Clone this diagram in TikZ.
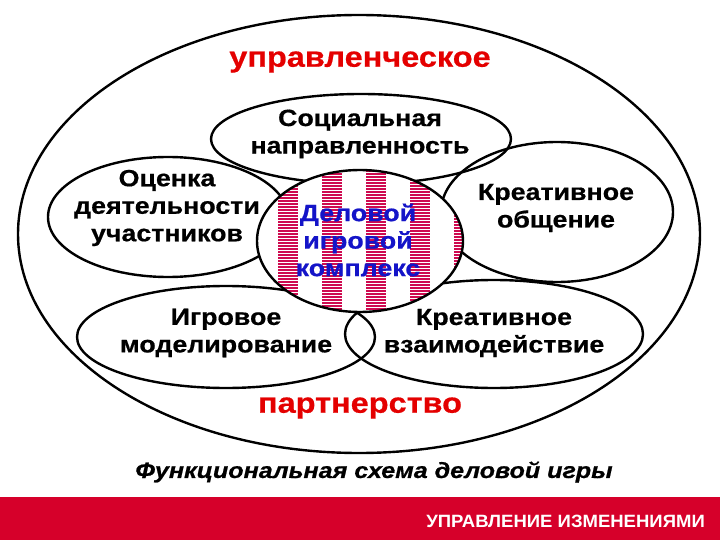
\documentclass[tikz,border=0pt]{standalone}
\usepackage{fontspec}
\setmainfont{Liberation Sans}
\newfontfamily\widefont[FakeStretch=1.14, BoldFeatures={FakeBold=0.6}, BoldItalicFeatures={FakeBold=0.8}]{Liberation Sans}
\newfontfamily\footfont[FakeStretch=1.04]{Liberation Sans}
\definecolor{barred}{RGB}{214,0,42}
\definecolor{txtred}{RGB}{228,0,0}
\definecolor{txtblue}{RGB}{20,20,200}
\definecolor{hatch}{RGB}{206,10,80}
\tikzset{
  ring/.style={draw=black, line width=2.4pt},
  lbl/.style={align=center, inner sep=0pt, font=\widefont\bfseries\fontsize{23.5}{27.5}\selectfont},
  redlbl/.style={inner sep=0pt, text=txtred, font=\widefont\bfseries\fontsize{28.5}{32}\selectfont},
}
\begin{document}
\begin{tikzpicture}[x=1pt,y=-1pt]
\useasboundingbox (0,0) rectangle (720,540);
\fill[white] (0,0) rectangle (720,540);
% bottom bar
\fill[barred] (0,497) rectangle (720,540);
\node[anchor=east, inner sep=0pt, text=white, font=\footfont\bfseries\fontsize{17.8}{21}\selectfont] (footer) at (705,521) {УПРАВЛЕНИЕ ИЗМЕНЕНИЯМИ};
% ellipses
\draw[ring] (359,234) ellipse [x radius=341, y radius=219];
\draw[ring] (361,139) ellipse [x radius=150, y radius=45];
\draw[ring] (168,217) ellipse [x radius=120, y radius=60];
\draw[ring] (557,212) ellipse [x radius=116, y radius=70];
\draw[ring] (226,337) ellipse [x radius=149, y radius=51];
\draw[ring] (494,334) ellipse [x radius=149, y radius=54];
% hatched central ellipse
\begin{scope}
  \clip (360,241) ellipse [x radius=103, y radius=71];
  \fill[white] (250,160) rectangle (470,320);
  \foreach \k in {0,...,4} {
    \fill[hatch] ({278+44*\k},160) rectangle ({298+44*\k},320);
  }
  \foreach \yy in {160,163,...,320} {
    \draw[white, line width=0.9pt] (250,\yy) -- (470,\yy);
  }
\end{scope}
\draw[ring] (360,241) ellipse [x radius=103, y radius=71];
% labels
\node[redlbl] (upr) at (360,62) {управленческое};
\node[lbl] (soc) at (360,134) {Социальная\\направленность};
\node[lbl] (otsenka) at (167,208) {Оценка\\деятельности\\участников};
\node[lbl, text=txtblue] (dig) at (358,240) {Деловой\\игровой\\комплекс};
\node[lbl] (kro) at (556,208) {Креативное\\общение};
\node[lbl] (igr) at (226,333) {Игровое\\моделирование};
\node[lbl] (krv) at (494,333) {Креативное\\взаимодействие};
\node[redlbl] (partn) at (360,408) {партнерство};
\node[inner sep=0pt, font=\widefont\bfseries\itshape\fontsize{22}{26}\selectfont] (cap) at (374,472) {Функциональная схема деловой игры};
\end{tikzpicture}
\end{document}
